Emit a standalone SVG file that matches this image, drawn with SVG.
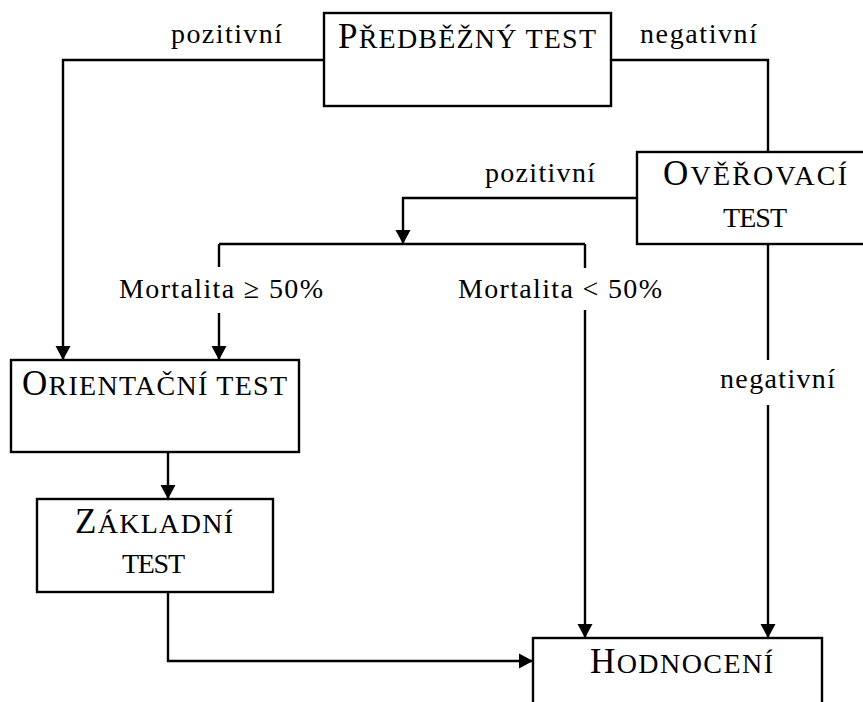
<svg xmlns="http://www.w3.org/2000/svg" width="863" height="702" viewBox="0 0 863 702">
<defs>
<style>
.box{fill:#fff;stroke:#000;stroke-width:2.4}
.ln{fill:none;stroke:#000;stroke-width:2.4}
.t{font-family:"Liberation Serif","Times New Roman",serif;fill:#000;font-size:28px}
.sc{font-size:28px}
.big{font-size:35px}
</style>
<marker id="ah" markerUnits="userSpaceOnUse" markerWidth="16" markerHeight="16" viewBox="0 0 16 16" refX="14" refY="8" orient="auto">
<path d="M0,0.5 L14,8 L0,15.5 Z" fill="#000"/>
</marker>
</defs>
<rect width="863" height="702" fill="#fff"/>
<g id="connectors">
<path class="ln" d="M324,60 H63 V360" marker-end="url(#ah)"/>
<path class="ln" d="M611,60 H768 V152"/>
<path class="ln" d="M637,198 H403 V244" marker-end="url(#ah)"/>
<path class="ln" d="M219,244 H585"/>
<path class="ln" d="M219,244 V267"/>
<path class="ln" d="M219,313 V360" marker-end="url(#ah)"/>
<path class="ln" d="M585,244 V268"/>
<path class="ln" d="M585,310 V638" marker-end="url(#ah)"/>
<path class="ln" d="M768,244 V360"/>
<path class="ln" d="M768,405 V638" marker-end="url(#ah)"/>
<path class="ln" d="M168,452 V499" marker-end="url(#ah)"/>
<path class="ln" d="M168,592 V661 H533" marker-end="url(#ah)"/>
</g>
<g id="labels">
<text class="t" x="171" y="43" textLength="111" lengthAdjust="spacing">pozitivní</text>
<text class="t" x="640" y="43" textLength="117" lengthAdjust="spacing">negativní</text>
<text class="t" x="485" y="182" textLength="110" lengthAdjust="spacing">pozitivní</text>
<text class="t" x="119" y="298" textLength="204" lengthAdjust="spacing">Mortalita ≥ 50%</text>
<text class="t" x="458" y="298" textLength="204" lengthAdjust="spacing">Mortalita &lt; 50%</text>
<text class="t" x="720" y="388" textLength="115" lengthAdjust="spacing">negativní</text>
</g>
<g id="predbezny">
<rect class="box" x="324" y="13" width="287" height="93"/>
<text class="t sc" x="338" y="48" textLength="258" lengthAdjust="spacing"><tspan class="big">P</tspan>ŘEDBĚŽNÝ TEST</text>
</g>
<g id="overovaci">
<rect class="box" x="637" y="152" width="240" height="92"/>
<text class="t sc" x="663" y="185" textLength="184" lengthAdjust="spacing"><tspan class="big">O</tspan>VĚŘOVACÍ</text>
<text class="t sc" x="723" y="227" textLength="64" lengthAdjust="spacing">TEST</text>
</g>
<g id="orientacni">
<rect class="box" x="11" y="360" width="288" height="92"/>
<text class="t sc" x="22" y="395" textLength="265" lengthAdjust="spacing"><tspan class="big">O</tspan>RIENTAČNÍ TEST</text>
</g>
<g id="zakladni">
<rect class="box" x="37" y="499" width="236" height="93"/>
<text class="t sc" x="75" y="533" textLength="158" lengthAdjust="spacing"><tspan class="big">Z</tspan>ÁKLADNÍ</text>
<text class="t sc" x="122" y="573" textLength="63" lengthAdjust="spacing">TEST</text>
</g>
<g id="hodnoceni">
<rect class="box" x="533" y="638" width="289" height="90"/>
<text class="t sc" x="590" y="673" textLength="183" lengthAdjust="spacing"><tspan class="big">H</tspan>ODNOCENÍ</text>
</g>
</svg>
